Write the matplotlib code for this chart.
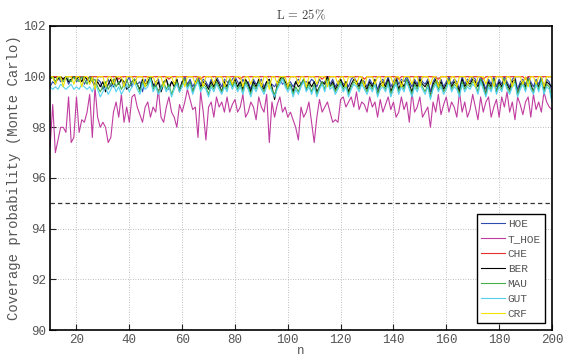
import matplotlib
matplotlib.use('Agg')
import matplotlib.pyplot as plt

n = list(range(10, 201))

hoe = [
    99.6, 99.8, 99.7, 100, 99.8, 99.9, 100, 99.7, 99.9, 100,
    99.8, 99.9, 100, 99.7, 99.9, 100, 99.8, 99.6, 99.9, 99.8,
    99.5, 99.7, 99.9, 99.6, 99.8, 100, 99.7, 99.9, 99.6, 99.8,
    100, 99.6, 99.9, 99.7, 99.8, 99.4, 99.9, 99.7, 100, 99.6,
    99.8, 99.9, 99.5, 99.8, 99.9, 99.6, 99.8, 99.7, 99.9, 99.5,
    99.8, 100, 99.7, 99.9, 99.6, 99.8, 100, 99.7, 99.9, 99.8,
    99.6, 99.9, 99.7, 100, 99.8, 99.6, 99.9, 99.8, 99.7, 99.9,
    100, 99.8, 99.6, 99.9, 99.7, 99.8, 99.5, 99.9, 99.7, 99.8,
    99.9, 99.6, 99.8, 99.7, 99.7, 99.6, 99.8, 99.9, 99.7, 99.8,
    99.7, 99.8, 99.6, 99.8, 99.9, 99.7, 99.8, 99.8, 99.7, 99.9,
    99.8, 99.6, 99.9, 99.7, 99.8, 100, 99.7, 99.9, 99.6, 99.8,
    99.9, 99.7, 99.8, 99.6, 99.9, 100, 99.8, 99.7, 99.9, 99.8,
    99.6, 99.9, 99.7, 99.8, 99.5, 99.8, 99.9, 99.7, 100, 99.6,
    99.8, 100, 99.7, 99.9, 99.8, 100, 99.8, 99.6, 99.9, 99.7,
    100, 99.8, 99.7, 99.9, 99.4, 99.8, 100, 99.7, 99.9, 99.6,
    99.8, 100, 99.7, 99.9, 99.8, 99.5, 100, 99.7, 99.9, 99.8,
    100, 99.9, 99.7, 100, 99.8, 99.5, 99.9, 99.7, 100, 99.6,
    99.9, 99.7, 100, 99.8, 99.6, 99.9, 100, 99.5, 99.8, 99.9,
    99.7, 100, 99.8, 99.6, 99.9, 99.7, 100, 99.6, 99.9, 99.8,
    99.4,
]

t_hoe = [
    97.2, 98.9, 97.0, 97.5, 98.0, 98.0, 97.8, 99.2, 97.4, 97.6,
    99.2, 97.8, 98.3, 98.2, 98.6, 99.3, 97.6, 99.6, 98.4, 98.0,
    98.2, 98.0, 97.4, 97.6, 98.6, 99.0, 98.4, 99.3, 98.2, 98.8,
    98.2, 99.2, 99.3, 98.8, 98.5, 98.2, 98.8, 99.0, 98.4, 98.8,
    98.6, 99.5, 98.4, 98.2, 98.8, 99.2, 98.6, 98.4, 98.0, 98.9,
    98.6, 99.0, 99.5, 99.1, 98.7, 98.8, 97.6, 99.4, 98.6, 97.5,
    98.8, 99.0, 98.4, 99.2, 98.8, 99.0, 98.6, 99.2, 98.6, 98.9,
    99.1, 98.6, 98.8, 99.3, 98.4, 98.6, 99.0, 98.8, 98.3, 99.2,
    98.8, 98.6, 99.3, 97.4, 99.0, 98.4, 98.9, 99.2, 98.6, 98.8,
    98.4, 98.6, 98.3, 98.0, 97.5, 98.8, 98.4, 98.6, 99.0, 98.2,
    97.4, 98.4, 99.1, 98.6, 98.8, 99.0, 98.6, 98.2, 98.3, 98.2,
    99.1, 99.2, 98.8, 99.0, 99.2, 98.8, 99.4, 98.7, 99.0, 98.9,
    98.6, 99.2, 98.8, 99.0, 98.4, 99.1, 98.6, 98.9, 99.2, 98.7,
    99.0, 98.4, 98.6, 99.2, 98.7, 99.0, 98.2, 99.4, 98.6, 98.8,
    99.2, 98.4, 98.6, 98.8, 98.0, 99.0, 98.6, 99.3, 98.5, 98.9,
    99.2, 98.6, 99.0, 98.8, 98.4, 99.4, 98.6, 99.0, 98.4, 98.7,
    99.3, 98.8, 98.3, 99.2, 98.6, 99.0, 99.2, 98.4, 98.8, 99.1,
    98.4, 99.2, 98.8, 99.4, 98.6, 99.0, 98.3, 99.2, 98.9, 98.5,
    99.0, 99.2, 98.4, 99.3, 98.7, 99.0, 98.6, 99.4, 99.0, 98.8,
    98.7,
]

che = [
    100, 100, 100, 100, 100, 99.9, 100, 100, 100, 100,
    100, 100, 100, 100, 99.9, 100, 100, 100, 100, 100,
    100, 100, 100, 100, 100, 100, 99.9, 100, 100, 100,
    100, 100, 100, 100, 100, 100, 100, 100, 99.9, 100,
    100, 100, 100, 100, 100, 99.9, 100, 100, 100, 100,
    100, 100, 100, 100, 100, 100, 100, 99.9, 100, 100,
    100, 100, 100, 100, 100, 100, 100, 100, 100, 100,
    100, 100, 99.9, 100, 100, 100, 100, 100, 100, 100,
    100, 100, 100, 100, 100, 100, 100, 100, 99.9, 100,
    100, 100, 100, 100, 100, 100, 100, 100, 100, 100,
    100, 100, 100, 99.9, 100, 100, 100, 100, 100, 100,
    100, 100, 100, 100, 100, 100, 100, 100, 100, 99.9,
    100, 100, 100, 100, 100, 100, 100, 100, 100, 100,
    100, 100, 99.9, 100, 100, 100, 100, 100, 100, 100,
    100, 100, 100, 100, 100, 100, 100, 99.9, 100, 100,
    100, 100, 100, 100, 100, 100, 100, 100, 100, 100,
    100, 100, 100, 100, 99.9, 100, 100, 100, 100, 100,
    100, 100, 100, 100, 100, 100, 100, 100, 100, 100,
    99.9, 100, 100, 100, 100, 100, 100, 100, 100, 100,
    100,
]

ber = [
    99.9, 100, 99.8, 99.9, 100, 99.9, 100, 99.8, 99.9, 100,
    99.9, 100, 99.8, 100, 99.9, 99.8, 100, 99.6, 99.8, 99.6,
    99.8, 99.4, 99.7, 99.9, 99.6, 100, 99.7, 99.9, 99.8, 99.5,
    99.6, 99.8, 99.9, 99.7, 99.5, 99.9, 99.7, 99.8, 100, 99.7,
    99.6, 99.8, 99.4, 99.7, 99.9, 99.5, 99.8, 99.6, 99.9, 99.4,
    99.8, 99.9, 99.6, 99.8, 99.4, 99.7, 99.9, 99.6, 99.8, 99.7,
    99.5, 99.8, 99.6, 99.9, 99.7, 99.4, 99.8, 99.6, 99.9, 99.7,
    99.9, 99.6, 99.8, 99.5, 99.9, 99.7, 99.4, 99.8, 99.6, 99.9,
    99.7, 99.5, 99.8, 99.9, 99.6, 99.1, 99.7, 99.9, 100, 99.8,
    99.6, 99.7, 99.4, 99.8, 99.6, 99.7, 99.9, 99.5, 99.8, 99.6,
    99.8, 99.4, 99.6, 99.8, 99.7, 100, 99.6, 99.8, 99.5, 99.7,
    99.9, 99.6, 99.8, 99.4, 99.7, 99.9, 99.8, 99.6, 99.9, 99.7,
    99.5, 99.8, 99.6, 99.9, 99.3, 99.7, 99.8, 99.6, 99.9, 99.4,
    99.7, 99.9, 99.5, 99.8, 99.6, 99.9, 99.7, 99.4, 99.8, 99.6,
    99.9, 99.7, 99.6, 99.8, 99.2, 99.7, 99.9, 99.6, 99.8, 99.5,
    99.7, 99.9, 99.6, 99.8, 99.7, 99.4, 99.9, 99.6, 99.8, 99.7,
    99.9, 99.8, 99.6, 99.9, 99.7, 99.3, 99.8, 99.6, 99.9, 99.4,
    99.8, 99.6, 99.9, 99.7, 99.5, 99.8, 99.9, 99.3, 99.7, 99.8,
    99.6, 99.9, 99.7, 99.4, 99.8, 99.6, 99.9, 99.5, 99.8, 99.7,
    99.6,
]

mau = [
    99.9, 100, 99.8, 100, 99.9, 99.8, 100, 99.9, 99.8, 100,
    99.9, 99.8, 100, 99.9, 99.7, 100, 99.8, 99.9, 99.6, 99.4,
    99.6, 99.8, 99.5, 99.7, 99.9, 99.6, 99.8, 99.5, 99.7, 99.9,
    99.6, 99.8, 99.9, 99.7, 99.4, 99.8, 99.6, 99.7, 100, 99.5,
    99.7, 99.4, 99.6, 99.8, 99.5, 99.7, 99.3, 99.6, 99.8, 99.5,
    99.7, 99.9, 99.6, 99.8, 99.4, 99.7, 99.9, 99.5, 99.7, 99.6,
    99.3, 99.7, 99.5, 99.8, 99.6, 99.4, 99.7, 99.5, 99.9, 99.6,
    99.8, 99.5, 99.7, 99.4, 99.8, 99.6, 99.3, 99.7, 99.5, 99.8,
    99.6, 99.4, 99.7, 99.8, 99.5, 99.3, 99.6, 99.8, 100, 99.7,
    99.5, 99.7, 99.3, 99.6, 99.4, 99.7, 99.9, 99.5, 99.7, 99.4,
    99.7, 99.3, 99.6, 99.8, 99.5, 99.9, 99.6, 99.7, 99.4, 99.6,
    99.8, 99.5, 99.7, 99.3, 99.6, 99.8, 99.7, 99.5, 99.8, 99.6,
    99.4, 99.7, 99.5, 99.8, 99.3, 99.6, 99.7, 99.5, 99.8, 99.3,
    99.6, 99.8, 99.4, 99.7, 99.5, 99.9, 99.6, 99.3, 99.7, 99.5,
    99.8, 99.6, 99.4, 99.7, 99.2, 99.6, 99.8, 99.5, 99.7, 99.4,
    99.6, 99.9, 99.5, 99.7, 99.6, 99.3, 99.8, 99.5, 99.7, 99.6,
    99.8, 99.7, 99.4, 99.9, 99.6, 99.3, 99.7, 99.5, 99.9, 99.4,
    99.7, 99.5, 99.9, 99.6, 99.4, 99.7, 99.8, 99.3, 99.6, 99.8,
    99.5, 99.9, 99.6, 99.4, 99.8, 99.5, 99.9, 99.4, 99.7, 99.6,
    99.1,
]

gut = [
    99.6, 99.5, 99.6, 99.5, 99.7, 99.6, 99.5, 99.6, 99.7, 99.5,
    99.6, 99.5, 99.7, 99.6, 99.5, 99.6, 99.4, 99.7, 99.5, 99.2,
    99.4, 99.6, 99.3, 99.5, 99.7, 99.4, 99.6, 99.3, 99.5, 99.7,
    99.4, 99.6, 99.8, 99.5, 99.3, 99.7, 99.5, 99.6, 99.9, 99.4,
    99.6, 99.3, 99.5, 99.7, 99.4, 99.6, 99.2, 99.5, 99.7, 99.4,
    99.6, 99.8, 99.5, 99.7, 99.3, 99.6, 99.8, 99.4, 99.6, 99.5,
    99.2, 99.6, 99.4, 99.7, 99.5, 99.3, 99.6, 99.4, 99.8, 99.5,
    99.7, 99.4, 99.6, 99.3, 99.7, 99.5, 99.2, 99.6, 99.4, 99.7,
    99.5, 99.3, 99.6, 99.7, 99.4, 99.2, 99.5, 99.7, 99.9, 99.6,
    99.4, 99.6, 99.2, 99.5, 99.3, 99.6, 99.8, 99.4, 99.6, 99.3,
    99.6, 99.2, 99.5, 99.7, 99.4, 99.8, 99.5, 99.6, 99.3, 99.5,
    99.7, 99.4, 99.6, 99.2, 99.5, 99.7, 99.6, 99.4, 99.7, 99.5,
    99.3, 99.6, 99.4, 99.7, 99.2, 99.5, 99.6, 99.4, 99.7, 99.2,
    99.5, 99.7, 99.3, 99.6, 99.4, 99.8, 99.5, 99.2, 99.6, 99.4,
    99.7, 99.5, 99.3, 99.6, 99.1, 99.5, 99.7, 99.4, 99.6, 99.3,
    99.5, 99.8, 99.4, 99.6, 99.5, 99.2, 99.7, 99.4, 99.6, 99.5,
    99.7, 99.6, 99.3, 99.8, 99.5, 99.2, 99.6, 99.4, 99.8, 99.3,
    99.6, 99.4, 99.8, 99.5, 99.3, 99.6, 99.7, 99.2, 99.5, 99.7,
    99.4, 99.8, 99.5, 99.3, 99.7, 99.4, 99.8, 99.3, 99.6, 99.5,
    99.0,
]

crf = [
    100, 100, 99.7, 100, 100, 99.6, 100, 100, 100, 99.7,
    100, 100, 99.6, 100, 100, 99.7, 100, 99.5, 100, 100,
    100, 99.6, 100, 100, 99.7, 100, 100, 100, 99.6, 100,
    100, 100, 99.7, 100, 100, 100, 99.6, 100, 100, 100,
    99.7, 100, 100, 99.6, 100, 100, 100, 99.7, 100, 100,
    100, 99.6, 100, 100, 100, 99.7, 100, 100, 99.6, 100,
    100, 100, 99.7, 100, 100, 100, 99.6, 100, 100, 99.7,
    100, 100, 100, 99.6, 100, 100, 99.7, 100, 100, 100,
    99.6, 100, 100, 99.5, 100, 100, 99.7, 100, 100, 100,
    99.6, 100, 100, 100, 99.7, 100, 100, 99.6, 100, 100,
    100, 99.7, 100, 100, 100, 99.6, 100, 100, 100, 99.7,
    100, 100, 99.6, 100, 100, 100, 99.7, 100, 100, 99.6,
    100, 100, 100, 99.7, 100, 100, 99.6, 100, 100, 100,
    99.7, 100, 100, 99.6, 100, 100, 100, 99.7, 100, 100,
    99.6, 100, 100, 100, 99.7, 100, 100, 99.6, 100, 100,
    100, 99.7, 100, 100, 99.6, 100, 100, 100, 99.7, 100,
    100, 99.6, 100, 100, 100, 99.7, 100, 100, 99.6, 100,
    100, 100, 99.7, 100, 100, 99.6, 100, 100, 100, 99.7,
    100, 99.6, 100, 100, 99.7, 100, 100, 99.6, 100, 100,
    100,
]

labels = ['HOE', 'T_HOE', 'CHE', 'BER', 'MAU', 'GUT', 'CRF']
colors = ['#2f4cb0', '#c03ca0', '#e8302a', '#000000', '#45b045', '#55d0f0', '#f2e400']
series = [hoe, t_hoe, che, ber, mau, gut, crf]

plt.rcParams['mathtext.fontset'] = 'cm'
mono = 'Liberation Mono'

fig = plt.figure(figsize=(5.69, 3.56), dpi=100)
ax = fig.add_axes([0.088, 0.073, 0.882, 0.854])

for y, lab, c in zip(series, labels, colors):
    ax.plot(n, y, color=c, lw=0.8, label=lab)

ax.axhline(95, color='#333333', lw=0.9, ls=(0, (3.5, 2.5)))

ax.set_xlim(10, 200)
ax.set_ylim(90, 102)
ax.set_xticks(range(20, 201, 20))
ax.set_yticks(range(90, 103, 2))
ax.grid(True, ls=(0, (1, 2)), color='#a8a8a8', lw=0.6)
ax.tick_params(direction='in', length=4, width=0.8, colors='#222222',
               labelcolor='#555555', labelsize=9, pad=3)
for lbl in ax.get_xticklabels() + ax.get_yticklabels():
    lbl.set_fontfamily(mono)
for s in ax.spines.values():
    s.set_linewidth(1.2)

ax.set_xlabel('n', fontfamily=mono, fontsize=9, color='#555555', labelpad=-1)
ax.set_ylabel('Coverage probability (Monte Carlo)', fontfamily=mono,
              fontsize=10, color='#555555', labelpad=2)
ax.set_title(r'$\mathrm{L}\,=\,25\%$', fontsize=9, color='#444444', pad=5)

leg = ax.legend(loc='lower right', prop={'family': mono, 'size': 8},
                fancybox=False, framealpha=1, edgecolor='black',
                handlelength=2.2, handletextpad=0.2, labelspacing=0.45,
                borderpad=0.4, borderaxespad=0.6)
leg.get_frame().set_linewidth(1.0)
for t in leg.get_texts():
    t.set_color('#555555')

fig.savefig('out.png', dpi=100)
